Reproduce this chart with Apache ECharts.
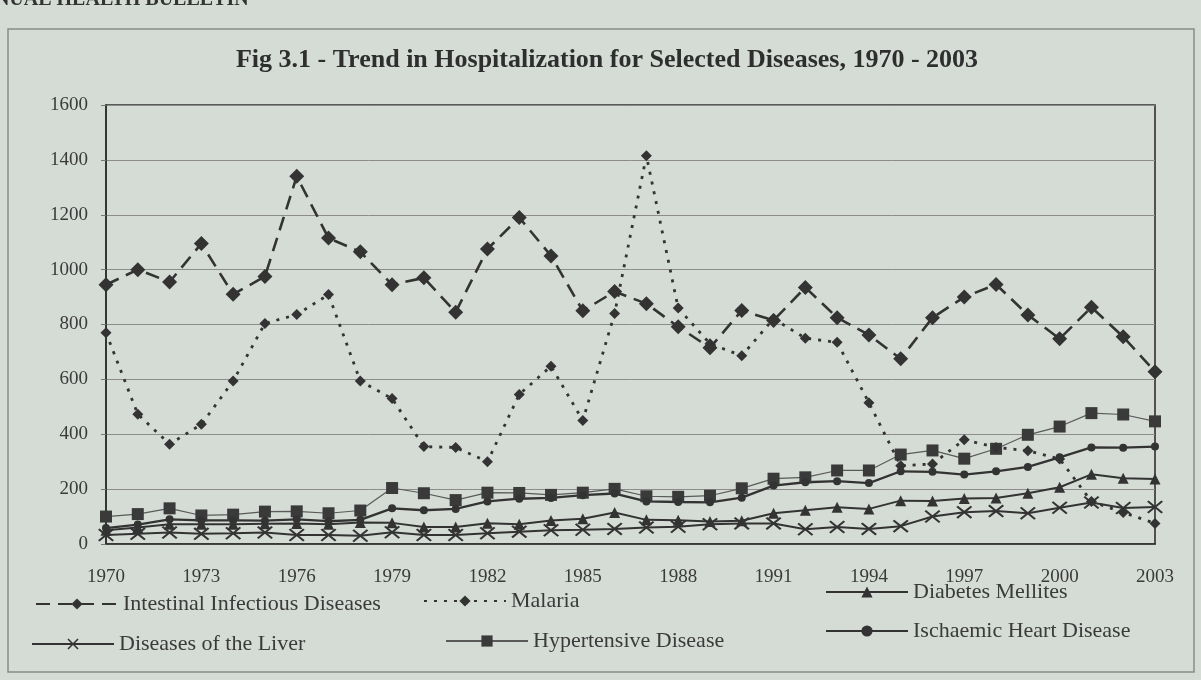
<!DOCTYPE html>
<html>
<head>
<meta charset="utf-8">
<script src="https://cdn.jsdelivr.net/npm/echarts@6/dist/echarts.min.js"></script>
<style>
html,body{margin:0;padding:0;background:#d5dcd6;}
#c{width:1201px;height:680px;}
</style>
</head>
<body>
<div id="c"></div>
<script>
const years = ['1970','1971','1972','1973','1974','1975','1976','1977','1978','1979','1980','1981','1982','1983','1984','1985','1986','1987','1988','1989','1990','1991','1992','1993','1994','1995','1996','1997','1998','1999','2000','2001','2002','2003'];
const yTicks = [0,200,400,600,800,1000,1200,1400,1600];

const intestinal = [945,1000,955,1095,910,975,1340,1115,1065,945,970,845,1075,1190,1050,850,920,876,792,715,851,815,935,825,762,675,825,900,946,835,748,863,755,628];
const malaria = [770,473,364,436,594,804,836,909,594,530,355,352,300,545,648,450,840,1415,860,730,686,821,750,735,515,285,292,380,352,340,310,155,115,75];
const diabetes = [50,60,72,72,72,74,75,72,78,77,62,62,76,72,86,92,115,88,87,82,85,112,123,134,128,158,157,166,168,185,207,254,240,237];
const liver = [33,37,42,37,39,42,33,33,30,43,33,33,39,45,50,52,55,60,63,72,75,75,54,62,55,65,100,116,120,112,132,151,131,135];
const hypertensive = [100,109,130,104,107,118,119,112,122,204,185,160,187,186,179,187,201,174,172,176,203,238,243,268,268,326,341,311,347,398,428,477,472,447];
const ischaemic = [58,71,90,86,86,85,90,83,88,130,123,128,155,165,168,178,184,155,153,152,169,213,225,229,222,265,263,253,265,281,316,352,351,355];

const names = ['Intestinal Infectious Diseases','Malaria','Diabetes Mellites','Diseases of the Liver','Hypertensive Disease','Ischaemic Heart Disease'];

const ink = '#333333';
const serif = '"Liberation Serif", "Times New Roman", serif';
const xPath = 'path://M0,1 L1,0 L5,4 L9,0 L10,1 L6,5 L10,9 L9,10 L5,6 L1,10 L0,9 L4,5 Z';

function legendAt(name, left, centerY) {
  return {
    data: [name], left: left, top: centerY - 12,
    itemWidth: 82, itemHeight: 14, itemGap: 0,
    textStyle: {fontFamily: serif, fontSize: 22, color: '#3a3a3a'},
    selectedMode: false
  };
}

const chart = echarts.init(document.getElementById('c'), null, {renderer: 'canvas'});
chart.setOption({
  backgroundColor: '#d5dcd6',
  animation: false,
  title: {
    text: 'Fig 3.1 - Trend in Hospitalization for Selected Diseases, 1970 - 2003',
    left: 602, textAlign: 'center', top: 42,
    textStyle: {fontFamily: serif, fontSize: 26, fontWeight: 'bold', color: '#2e2e2e'}
  },
  graphic: [
    {type: 'rect', shape: {x: 8, y: 29, width: 1186, height: 643}, style: {fill: 'none', stroke: '#8a8a8a', lineWidth: 1.5}, silent: true},
    {type: 'text', left: -34, top: -10, style: {text: 'ANNUAL HEALTH BULLETIN', fontFamily: serif, fontSize: 20, fontWeight: 'bold', fill: '#333'}, silent: true}
  ],
  legend: [
    legendAt(names[0], 30, 600),
    legendAt(names[1], 418, 597),
    legendAt(names[2], 820, 588),
    legendAt(names[3], 26, 640),
    legendAt(names[4], 440, 637),
    legendAt(names[5], 820, 627)
  ],
  grid: {
    left: 106, right: 46, top: 105, bottom: 136,
    show: true, borderColor: '#2f2f2f', borderWidth: 1.6, backgroundColor: 'transparent'
  },
  xAxis: {
    type: 'category', data: years, boundaryGap: false,
    axisLine: {show: true, lineStyle: {color: '#2f2f2f', width: 1.6}},
    axisTick: {show: false},
    axisLabel: {interval: 2, margin: 24, fontFamily: serif, fontSize: 19, color: '#3a3a3a'},
    splitLine: {show: false}
  },
  yAxis: {
    type: 'value', min: yTicks[0], max: yTicks[yTicks.length - 1], interval: 200,
    axisLine: {show: true, lineStyle: {color: '#2f2f2f', width: 1.6}},
    axisTick: {show: true, length: 5, lineStyle: {color: '#777'}},
    axisLabel: {margin: 18, fontFamily: serif, fontSize: 19, color: '#3a3a3a', formatter: function (v) { return String(v); }},
    splitLine: {show: true, lineStyle: {color: '#8c8c8c', width: 1}}
  },
  series: [
    {name: names[0], type: 'line', data: intestinal, symbol: 'diamond', symbolSize: 15,
     itemStyle: {color: ink}, lineStyle: {color: ink, width: 2.6, type: [14, 8]}, z: 6},
    {name: names[1], type: 'line', data: malaria, symbol: 'diamond', symbolSize: 11,
     itemStyle: {color: ink}, lineStyle: {color: ink, width: 2.8, type: [3, 7]}, z: 5},
    {name: names[2], type: 'line', data: diabetes, symbol: 'triangle', symbolSize: 11,
     itemStyle: {color: ink}, lineStyle: {color: ink, width: 2}, z: 4},
    {name: names[3], type: 'line', data: liver, symbol: xPath, symbolSize: [16, 13],
     itemStyle: {color: ink}, lineStyle: {color: ink, width: 2}, z: 3},
    {name: names[4], type: 'line', data: hypertensive, symbol: 'rect', symbolSize: 12,
     itemStyle: {color: '#3a3a3a'}, lineStyle: {color: '#5a5a5a', width: 1.2}, z: 4},
    {name: names[5], type: 'line', data: ischaemic, symbol: 'circle', symbolSize: 8,
     itemStyle: {color: ink}, lineStyle: {color: ink, width: 2.3}, z: 4}
  ]
});
</script>
</body>
</html>
